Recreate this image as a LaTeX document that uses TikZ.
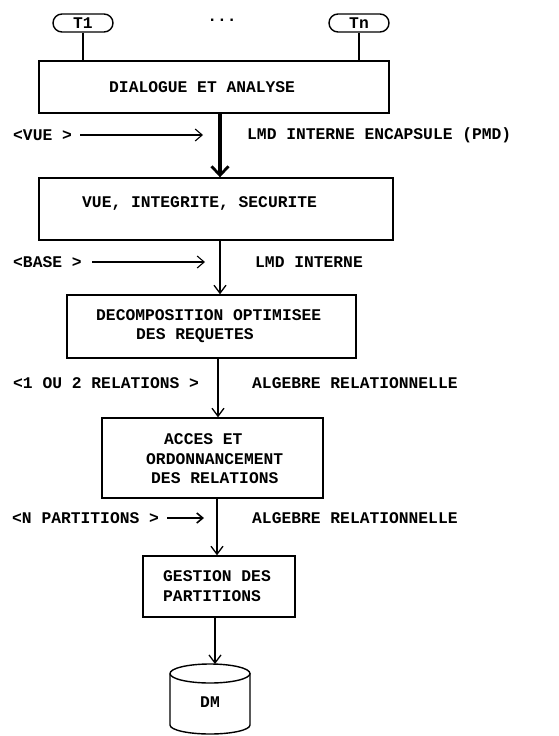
\documentclass[tikz,border=0pt]{standalone}
\usepackage{fontspec}
\setmainfont{Liberation Mono}
\usetikzlibrary{arrows.meta}
\begin{document}
\begin{tikzpicture}[x=1pt,y=-1pt,
  font=\fontsize{16.3}{19.5}\selectfont\bfseries,
  box/.style={draw,line width=1.4pt,inner sep=0pt},
  term/.style={draw,line width=1.4pt,minimum width=60pt,minimum height=18pt,rounded corners=9pt,inner sep=0pt},
  txt/.style={inner sep=0pt,anchor=west},
  mtxt/.style={inner sep=0pt,align=left},
  flow/.style={line width=1.3pt,-{Straight Barb[length=8pt,width=12pt,line width=1.3pt]}},
  bigflow/.style={line width=3.5pt,-{Straight Barb[length=9pt,width=17pt,line width=2.8pt]}},
  side/.style={line width=1.1pt,-{Straight Barb[length=7pt,width=12pt,line width=1.1pt]}},
  sidethick/.style={line width=2pt,-{Straight Barb[length=6pt,width=10pt,line width=1.6pt]}},
  link/.style={line width=1.4pt}
]
\useasboundingbox (0,0) rectangle (558,736);
% terminals
\node[term] (t1) at (83,23) {T1};
\node (dots) at (222,20) {...};
\node[term] (tn) at (359,23) {Tn};
% boxes
\node[box,minimum width=350pt,minimum height=52pt] (b1) at (214,87) {};
\node[txt] (b1t) at (109,87) {DIALOGUE ET ANALYSE};
\node[box,minimum width=354pt,minimum height=62pt] (b2) at (216,209) {};
\node[txt] (b2t) at (82,203) {VUE, INTEGRITE, SECURITE};
\node[box,minimum width=289pt,minimum height=63pt] (b3) at (211.5,326.5) {};
\node[mtxt,anchor=west] (b3t) at (96,326) {DECOMPOSITION OPTIMISEE\\\hspace*{40pt}DES REQUETES};
\node[box,minimum width=221pt,minimum height=80pt] (b4) at (212.5,458) {};
\node[mtxt,anchor=west] (b4t) at (146,459) {\hspace*{18pt}ACCES ET\\ORDONNANCEMENT\\\hspace*{5pt}DES RELATIONS};
\node[box,minimum width=152pt,minimum height=61pt] (b5) at (219,586.5) {};
\node[mtxt,anchor=west] (b5t) at (163,586) {GESTION DES\\PARTITIONS};
% cylinder
\draw[link] (170,673.5) arc[start angle=180,end angle=-180,x radius=40,y radius=9.5];
\draw[link] (170,673.5) -- (170,725) arc[start angle=180,end angle=0,x radius=40,y radius=9] -- (250,673.5);
\coordinate (dmtop) at (215,664);
\node (dm) at (210,702) {DM};
% terminal links
\draw[link] (t1.south) -- (t1.south |- b1.north);
\draw[link] (tn.south) -- (tn.south |- b1.north);
% vertical flow
\draw[bigflow] (b1.south -| 220,0) -- (b2.north -| 220,0);
\draw[flow] (b2.south -| 220,0) -- (b3.north -| 220,0);
\draw[flow] (b3.south -| 218,0) -- (b4.north -| 218,0);
\draw[flow] (b4.south -| 217,0) -- (b5.north -| 217,0);
\draw[flow] (b5.south -| 215,0) -- (dmtop);
% side labels
\node[txt] (vue) at (13,135) {<VUE >};
\coordinate (vueend) at (203,135);
\draw[side] (80,135) -- (vueend);
\node[txt] (lmd1) at (247,135) {LMD INTERNE ENCAPSULE (PMD)};
\node[txt] (base) at (13,262) {<BASE >};
\coordinate (baseend) at (205,262);
\draw[side] (92,262) -- (baseend);
\node[txt] (lmd2) at (255,262) {LMD INTERNE};
\node[txt] (rel) at (13,383) {<1 OU 2 RELATIONS >};
\node[txt] (alg1) at (252,383) {ALGEBRE RELATIONNELLE};
\node[txt] (npart) at (12,518) {<N PARTITIONS >};
\coordinate (npartend) at (204,518);
\draw[sidethick] (167,518) -- (npartend);
\node[txt] (alg2) at (252,518) {ALGEBRE RELATIONNELLE};
\end{tikzpicture}
\end{document}
